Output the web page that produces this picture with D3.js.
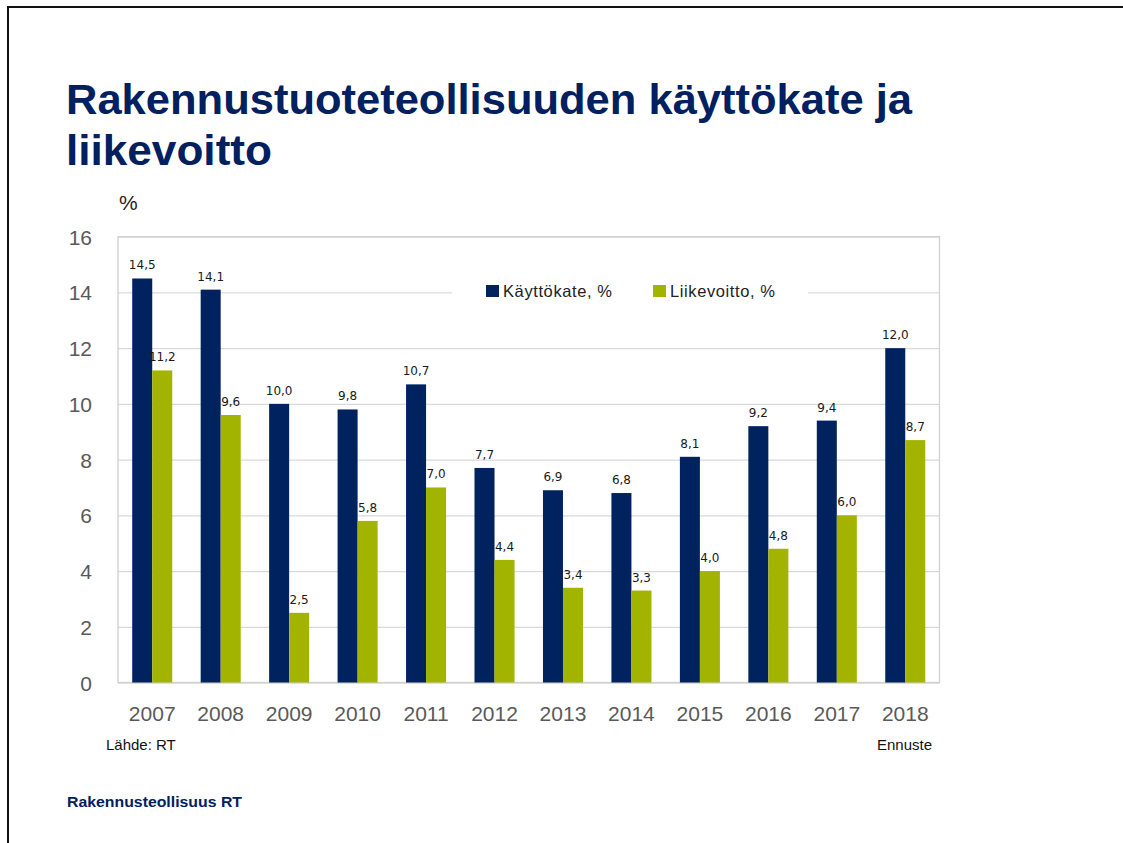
<!DOCTYPE html>
<html lang="fi">
<head>
<meta charset="UTF-8">
<title>Rakennustuoteteollisuuden käyttökate ja liikevoitto</title>
<script src="https://d3js.org/d3.v7.min.js"></script>
<style>
    body { margin: 0; background: #fff; }
    svg { display: block; }
</style>
</head>
<body>
<div id="chart"></div>
<script>
    // data
    var years = ["2007", "2008", "2009", "2010", "2011", "2012", "2013", "2014", "2015", "2016", "2017", "2018"];
    var kayttokate = [14.5, 14.1, 10.0, 9.8, 10.7, 7.7, 6.9, 6.8, 8.1, 9.2, 9.4, 12.0];
    var liikevoitto = [11.2, 9.6, 2.5, 5.8, 7.0, 4.4, 3.4, 3.3, 4.0, 4.8, 6.0, 8.7];
    var seriesNames = ["Käyttökate, %", "Liikevoitto, %"];
    var yTicks = [0, 2, 4, 6, 8, 10, 12, 14, 16];

    var colors = ["#002360", "#A2B400"];
    var width = 1123, height = 843;
    var plot = { left: 118, right: 939.5, top: 236.7, bottom: 682.5 };

    var svg = d3.select("#chart").append("svg")
        .attr("width", width)
        .attr("height", height);

    // slide frame
    svg.append("path")
        .attr("d", "M8," + height + "V7H" + width)
        .attr("fill", "none")
        .attr("stroke", "#111")
        .attr("stroke-width", 2);

    // title
    var title = svg.append("g")
        .attr("font-family", "'Liberation Sans Narrow', 'Arial Narrow', sans-serif")
        .attr("font-weight", "bold")
        .attr("font-size", 42)
        .attr("fill", "#002060");
    title.append("text").attr("x", 66).attr("y", 114)
        .attr("textLength", 846).attr("lengthAdjust", "spacingAndGlyphs")
        .text("Rakennustuoteteollisuuden käyttökate ja");
    title.append("text").attr("x", 66).attr("y", 165)
        .attr("textLength", 206).attr("lengthAdjust", "spacingAndGlyphs")
        .text("liikevoitto");

    var x0 = d3.scaleBand()
        .domain(years)
        .range([plot.left, plot.right]);

    var x1 = d3.scaleBand()
        .domain([0, 1])
        .range([0, x0.bandwidth()])
        .paddingOuter(0.71);

    var y = d3.scaleLinear()
        .domain([0, 16])
        .range([plot.bottom, plot.top]);

    // gridlines
    svg.append("g")
        .attr("transform", "translate(" + plot.left + ",0)")
        .call(d3.axisLeft(y).tickValues(yTicks).tickSize(-(plot.right - plot.left)).tickFormat(""))
        .call(function (g) { g.select(".domain").remove(); })
        .selectAll("line")
        .attr("stroke", "#D9D9D9")
        .attr("stroke-width", 1.3);

    // plot area border
    svg.append("rect")
        .attr("x", plot.left)
        .attr("y", plot.top)
        .attr("width", plot.right - plot.left)
        .attr("height", plot.bottom - plot.top)
        .attr("fill", "none")
        .attr("stroke", "#D0D0D0")
        .attr("stroke-width", 1.3);

    // y axis labels
    svg.append("g")
        .attr("transform", "translate(" + (plot.left - 26) + ",0)")
        .call(d3.axisLeft(y).tickValues(yTicks).tickSize(0).tickPadding(0))
        .call(function (g) { g.select(".domain").remove(); })
        .selectAll("text")
        .attr("font-family", "'Liberation Sans', Arial, sans-serif")
        .attr("font-size", 21)
        .attr("fill", "#595959")
        .attr("dy", "0.36em");

    svg.append("text")
        .attr("x", 119).attr("y", 210)
        .attr("font-family", "'Liberation Sans', Arial, sans-serif")
        .attr("font-size", 21)
        .attr("fill", "#222")
        .text("%");

    // x axis labels
    svg.append("g")
        .attr("transform", "translate(0," + plot.bottom + ")")
        .call(d3.axisBottom(x0).tickSize(0).tickPadding(24))
        .call(function (g) { g.select(".domain").remove(); })
        .selectAll("text")
        .attr("font-family", "'Liberation Sans', Arial, sans-serif")
        .attr("font-size", 21)
        .attr("fill", "#595959");

    // legend background hides the gridline behind it
    var legend = svg.append("g");
    legend.append("rect")
        .attr("x", 452).attr("y", 272)
        .attr("width", 356).attr("height", 42)
        .attr("fill", "#fff");

    var legendX = [486, 653];
    seriesNames.forEach(function (name, i) {
        legend.append("rect")
            .attr("x", legendX[i]).attr("y", 285)
            .attr("width", 13).attr("height", 12)
            .attr("fill", colors[i]);
        legend.append("text")
            .attr("x", legendX[i] + 17).attr("y", 297)
            .attr("font-family", "'Liberation Sans', Arial, sans-serif")
            .attr("font-size", 16.5)
            .attr("letter-spacing", 0.6)
            .attr("fill", "#222")
            .text(name);
    });

    // bars
    var rows = years.map(function (yr, i) {
        return { year: yr, values: [kayttokate[i], liikevoitto[i]] };
    });

    var groups = svg.append("g").selectAll("g")
        .data(rows)
        .enter().append("g")
        .attr("transform", function (d) { return "translate(" + x0(d.year) + ",0)"; });

    var cells = groups.selectAll("g")
        .data(function (d) { return d.values.map(function (v, k) { return { k: k, v: v }; }); })
        .enter().append("g");

    cells.append("rect")
        .attr("x", function (d) { return x1(d.k); })
        .attr("y", function (d) { return y(d.v); })
        .attr("width", x1.bandwidth())
        .attr("height", function (d) { return y(0) - y(d.v); })
        .attr("fill", function (d) { return colors[d.k]; });

    cells.append("text")
        .attr("x", function (d) { return x1(d.k) + x1.bandwidth() / 2; })
        .attr("y", function (d) { return y(d.v) - 9; })
        .attr("text-anchor", "middle")
        .attr("font-family", "'DejaVu Sans', Verdana, sans-serif")
        .attr("font-size", 12)
        .attr("fill", "#1a1a1a")
        .text(function (d) { return d3.format(".1f")(d.v).replace(".", ","); });

    // notes
    var notes = svg.append("g")
        .attr("font-family", "'Liberation Sans', Arial, sans-serif");
    notes.append("text").attr("x", 106).attr("y", 750)
        .attr("font-size", 15).attr("fill", "#111")
        .text("Lähde: RT");
    notes.append("text").attr("x", 932).attr("y", 750)
        .attr("text-anchor", "end")
        .attr("font-size", 15).attr("fill", "#111")
        .text("Ennuste");
    notes.append("text").attr("x", 67).attr("y", 807)
        .attr("font-size", 15.5).attr("font-weight", "bold").attr("fill", "#002060")
        .attr("textLength", 175).attr("lengthAdjust", "spacingAndGlyphs")
        .text("Rakennusteollisuus RT");
</script>
</body>
</html>
